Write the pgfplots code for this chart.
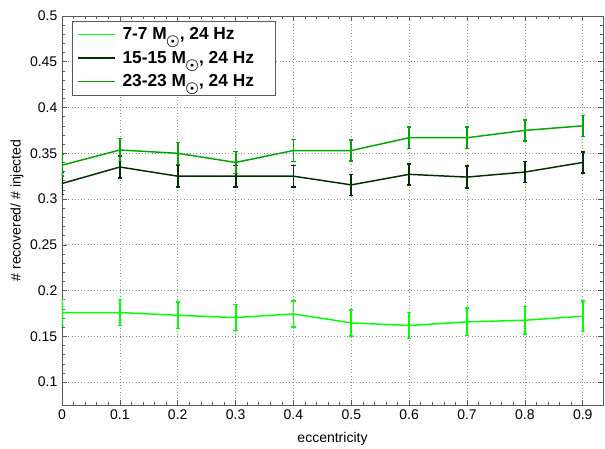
\documentclass[border=0pt]{standalone}
\usepackage{pgfplots}
\pgfplotsset{compat=1.18}
\usepackage{graphicx}
\usepackage{fontspec}
\setmainfont{Liberation Sans}
\definecolor{cA}{RGB}{0,255,0}
\definecolor{cB}{RGB}{0,48,0}
\definecolor{cC}{RGB}{0,165,0}
\definecolor{gridc}{RGB}{140,140,140}
\definecolor{axc}{RGB}{90,90,90}
\newcommand{\msun}{M\kern-0.5pt\raisebox{-4.5pt}{\scalebox{0.95}{$\boldsymbol{\odot}$}}}
\usepackage{amsmath}
\begin{document}
\begin{tikzpicture}
\begin{axis}[
    set layers=standard,
    scale only axis,
    width=405.75pt, height=291.75pt,
    xmin=0, xmax=0.935, ymin=0.075, ymax=0.5,
    xtick={0,0.1,0.2,0.3,0.4,0.5,0.6,0.7,0.8,0.9},
    ytick={0.1,0.15,0.2,0.25,0.3,0.35,0.4,0.45,0.5},
    minor tick num=4,
    tick align=inside,
    major tick length=4pt, minor tick length=2pt,
    grid=major,
    major grid style={gridc, dotted, line width=0.5pt},
    axis line style={axc},
    every tick/.style={axc},
    ticklabel style={font=\fontsize{10.5}{12}\selectfont},
    /pgf/number format/assume math mode=true,
    xlabel={eccentricity},
    ylabel={\# recovered/ \# injected},
    label style={font=\fontsize{10.5}{12}\selectfont},
    xlabel style={yshift=-3pt},
    ylabel style={yshift=-2pt},
    legend style={at={(0,1)}, anchor=north west, xshift=7.5pt, yshift=-3.5pt,
        draw=axc, font=\bfseries\fontsize{13}{15}\selectfont,
        row sep=3pt, inner xsep=4pt, inner ysep=3pt},
    legend cell align=left,
    legend image code/.code={\draw[#1, line width=1.2pt] (0pt,0pt) -- (27.5pt,0pt);},
]
\coordinate (bl) at (rel axis cs:0,0);
\coordinate (tr) at (rel axis cs:1,1);
\addplot[color=cA, line width=1.1pt, error bars/.cd, y dir=both, y explicit,
    error bar style={color=cA, line width=1.4pt, solid}, error mark options={color=cA, rotate=90, mark size=1.6pt, line width=1.1pt}]
coordinates {
    (0,0.176) +- (0,0.014)
    (0.1,0.176) +- (0,0.014)
    (0.2,0.173) +- (0,0.0147)
    (0.3,0.1705) +- (0,0.0143)
    (0.4,0.1745) +- (0,0.0143)
    (0.5,0.1647) +- (0,0.0143)
    (0.6,0.1618) +- (0,0.0143)
    (0.7,0.1658) +- (0,0.015)
    (0.8,0.1676) +- (0,0.015)
    (0.9,0.172) +- (0,0.0165)
};
\addlegendentry{\kern3pt 7-7 \msun, 24 Hz}
\addplot[color=cB, line width=1.1pt, error bars/.cd, y dir=both, y explicit,
    error bar style={color=cB, line width=1.4pt, solid}, error mark options={color=cB, rotate=90, mark size=1.6pt, line width=1.1pt}]
coordinates {
    (0,0.317) +- (0,0.012)
    (0.1,0.335) +- (0,0.012)
    (0.2,0.325) +- (0,0.0117)
    (0.3,0.325) +- (0,0.0117)
    (0.4,0.325) +- (0,0.0117)
    (0.5,0.3155) +- (0,0.0115)
    (0.6,0.327) +- (0,0.0115)
    (0.7,0.324) +- (0,0.012)
    (0.8,0.3295) +- (0,0.0115)
    (0.9,0.340) +- (0,0.0113)
};
\addlegendentry{\kern3pt 15-15 \msun, 24 Hz\kern10pt}
\addplot[color=cC, line width=1.1pt, error bars/.cd, y dir=both, y explicit,
    error bar style={color=cC, line width=1.4pt, solid}, error mark options={color=cC, rotate=90, mark size=1.6pt, line width=1.1pt}]
coordinates {
    (0,0.337) +- (0,0.012)
    (0.1,0.3536) +- (0,0.0126)
    (0.2,0.350) +- (0,0.012)
    (0.3,0.340) +- (0,0.012)
    (0.4,0.353) +- (0,0.012)
    (0.5,0.353) +- (0,0.0113)
    (0.6,0.367) +- (0,0.0115)
    (0.7,0.367) +- (0,0.0115)
    (0.8,0.375) +- (0,0.0115)
    (0.9,0.380) +- (0,0.0115)
};
\addlegendentry{\kern3pt 23-23 \msun, 24 Hz\kern10pt}
\end{axis}
\pgfresetboundingbox
\path ([shift={(-46.5pt,-33pt)}]bl) rectangle ([shift={(1.5pt,12pt)}]tr);
\end{tikzpicture}
\end{document}
